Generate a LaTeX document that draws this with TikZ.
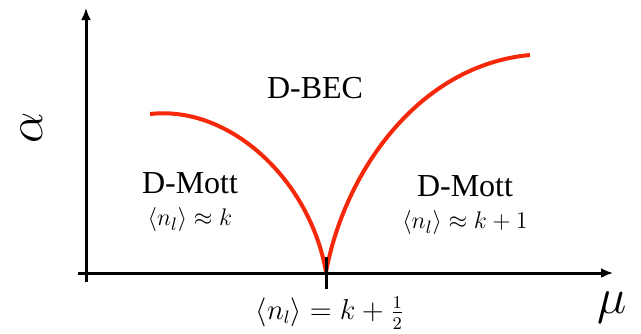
\documentclass[tikz,border=0pt]{standalone}
\usepackage{amsmath,amssymb}
\usepackage{fontspec}
\setmainfont{Liberation Serif}
\usetikzlibrary{arrows.meta,positioning}
\definecolor{boundred}{RGB}{245,40,10}

\begin{document}
\begin{tikzpicture}[
  x=0.5pt,y=-0.5pt,
  axis/.style={line width=1.5pt,-{Latex[length=6pt,width=5pt]}},
  phase/.style={font=\fontsize{16}{19}\selectfont},
  filling/.style={font=\fontsize{13}{16}\selectfont},
  bigsym/.style={font=\fontsize{29}{32}\selectfont},
  bound/.style={line width=2pt,draw=boundred}
]
\useasboundingbox (0,0) rectangle (641,333);

% axes
\coordinate (xstart) at (78,273);
\coordinate (xend) at (613,273);
\coordinate (ystart) at (86,282);
\coordinate (yend) at (86,8);
\draw[axis] (xstart) -- (xend);
\draw[axis] (ystart) -- (yend);
\node[bigsym] (mu) at (612,308) {$\mu$};
\node[bigsym,font=\fontsize{38}{40}\selectfont,rotate=90] (alpha) at (32,128) {$\alpha$};

% phase boundary
\coordinate (lstart) at (150,114);
\coordinate (cusp) at (326,272);
\coordinate (rend) at (530,55);
\draw[bound] (lstart) .. controls (230,105) and (310,180) .. (cusp);
\draw[bound] (cusp) .. controls (345,170) and (420,65) .. (rend);
\coordinate (ticktop) at (326,257);
\coordinate (tickbot) at (326,289);
\draw[line width=1.5pt] (ticktop) -- (tickbot);
\node[filling,font=\fontsize{13.5}{16}\selectfont] (half) at (330,313) {$\langle n_l\rangle = k+\frac{1}{2}$};

% phases
\node[phase] (bec) at (315,88) {D-BEC};
\node[phase] (mottL) at (190,183) {D-Mott};
\node[filling,below=0pt of mottL] (nL) {$\langle n_l\rangle \approx k$};
\node[phase] (mottR) at (465,186) {D-Mott};
\node[filling,below=0pt of mottR] (nR) {$\langle n_l\rangle \approx k+1$};
\end{tikzpicture}
\end{document}
